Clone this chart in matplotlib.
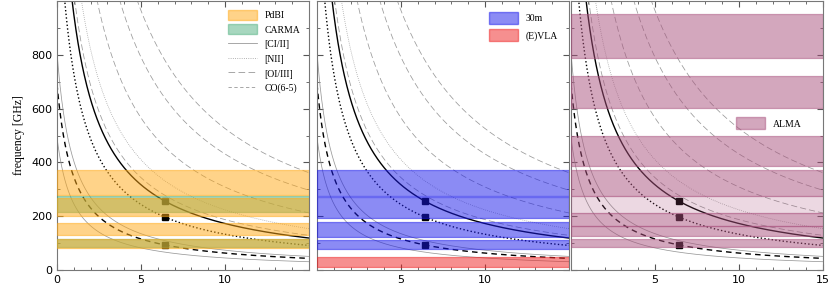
import numpy as np
import matplotlib
matplotlib.use("Agg")
import matplotlib.pyplot as plt
from matplotlib.patches import Patch
from matplotlib.lines import Line2D
from matplotlib.ticker import MultipleLocator

# rest frequencies of the fine-structure / CO lines [GHz]
line_names = ['[CII] 158', '[NII] 205', 'CO(6-5)', '[CI] 1-0', '[CI] 2-1',
              '[OI] 145', '[NII] 122', '[OIII] 88', '[OI] 63', '[OIII] 52']
line_rest = [1900.54, 1461.13, 691.47, 492.16, 809.34,
             2060.07, 2459.38, 3393.01, 4744.78, 5785.88]
line_kind = ['CII', 'NII', 'CO', 'CII', 'CII',
             'OIII', 'NII', 'OIII', 'OIII', 'OIII']
line_bold = [True, True, True, False, False,
             False, False, False, False, False]

# source redshift marked with squares
z_src = 6.42
src_lines = [1900.54, 1461.13, 691.47]

# receiver bands [GHz]
pdbi_lo = [80, 129, 201, 277]
pdbi_hi = [116, 174, 267, 371]
carma_lo = [85, 215]
carma_hi = [116, 275]
iram30_lo = [79, 121, 195, 274]
iram30_hi = [111, 179, 272, 370]
vla_lo = [12]
vla_hi = [49]
alma_lo = [84, 125, 163, 211, 275, 385, 602, 787]
alma_hi = [116, 163, 211, 275, 373, 500, 720, 950]
alma_light = [False, False, False, True, False, False, False, False]

styles = {'CII': '-', 'NII': ':', 'OIII': (0, (8, 4)), 'CO': (0, (4, 3))}
legend_labels = {'CII': '[CI/II]', 'NII': '[NII]', 'OIII': '[OI/III]', 'CO': 'CO(6-5)'}

c_pdbi = '#ffa814'
c_carma = '#51b181'
c_30m = '#1919eb'
c_vla = '#ef2121'
c_alma = '#a9517d'
c_thin = '#999999'

plt.rcParams['font.size'] = 8
serif = 'Liberation Serif'

fig = plt.figure(figsize=(8.3, 2.84), dpi=100)
x0s = [57, 317, 571]
w = 252
axes = [fig.add_axes([x / 830, 14 / 284, w / 830, 269 / 284]) for x in x0s]

z = np.linspace(0.0, 15.0, 600)


def draw_lines(ax):
    for nu, kind, bold in zip(line_rest, line_kind, line_bold):
        ax.plot(z, nu / (1 + z), ls=styles[kind],
                color='black' if bold else c_thin,
                lw=1.0 if bold else 0.55, zorder=2)
    for nu in src_lines:
        ax.plot([z_src], [nu / (1 + z_src)], 's', color='black', ms=4.5, zorder=2)


def bands(ax, lo, hi, color, alpha=0.5):
    for a, b in zip(lo, hi):
        ax.axhspan(a, b, facecolor=color, edgecolor=color, alpha=alpha, lw=0.9, zorder=3)


for ax in axes:
    draw_lines(ax)
    ax.set_xlim(0, 15)
    ax.set_ylim(0, 1000)
    ax.set_yticks([0, 200, 400, 600, 800])
    ax.xaxis.set_minor_locator(MultipleLocator(1))
    ax.yaxis.set_minor_locator(MultipleLocator(100))
    ax.tick_params(which='both', direction='in', top=True, right=True, color='#555555')
    ax.tick_params(which='major', length=4)
    ax.tick_params(which='minor', length=2)
    for s in ax.spines.values():
        s.set_color('#777777')
        s.set_linewidth(0.8)

leg_prop = {'family': serif, 'size': 7}

# panel 1: PdBI + CARMA
ax = axes[0]
bands(ax, carma_lo, carma_hi, c_carma)
bands(ax, pdbi_lo, pdbi_hi, c_pdbi)
ax.set_xticks([0, 5, 10])
ax.set_ylabel('frequency [GHz]', family=serif, fontsize=8.5)
h1 = [Patch(facecolor=c_pdbi, edgecolor=c_pdbi, alpha=0.5, label='PdBI'),
      Patch(facecolor=c_carma, edgecolor=c_carma, alpha=0.5, label='CARMA')]
h1 += [Line2D([], [], color=c_thin, lw=0.6, ls=styles[k], label=legend_labels[k])
       for k in ['CII', 'NII', 'OIII', 'CO']]
ax.legend(handles=h1, loc='upper right', frameon=False, prop=leg_prop,
          handlelength=3.0, handleheight=1.2, labelspacing=0.45, borderaxespad=0.5)

# panel 2: 30m + (E)VLA
ax = axes[1]
bands(ax, iram30_lo, iram30_hi, c_30m)
bands(ax, vla_lo, vla_hi, c_vla)
ax.set_xticks([5, 10])
ax.set_yticklabels([])
h2 = [Patch(facecolor=c_30m, edgecolor=c_30m, alpha=0.5, label='30m'),
      Patch(facecolor=c_vla, edgecolor=c_vla, alpha=0.5, label='(E)VLA')]
ax.legend(handles=h2, loc='upper right', frameon=False, prop=leg_prop,
          handlelength=3.0, handleheight=1.5, labelspacing=0.6, borderaxespad=0.7)

# panel 3: ALMA
ax = axes[2]
for a, b, light in zip(alma_lo, alma_hi, alma_light):
    bands(ax, [a], [b], c_alma, alpha=0.22 if light else 0.5)
ax.set_xticks([5, 10, 15])
ax.set_yticklabels([])
h3 = [Patch(facecolor=c_alma, edgecolor=c_alma, alpha=0.5, label='ALMA')]
ax.legend(handles=h3, loc='center left', bbox_to_anchor=(0.62, 0.545), frameon=False,
          prop=leg_prop, handlelength=3.0, handleheight=1.5)

fig.savefig('out.png', dpi=100)
